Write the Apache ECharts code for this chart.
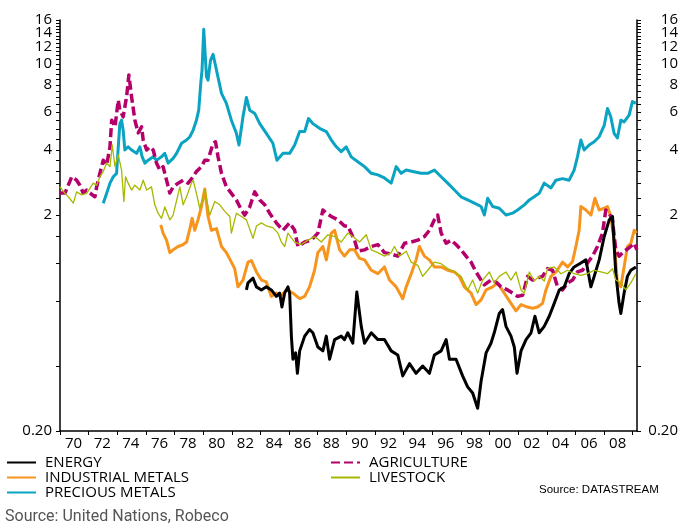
<!DOCTYPE html>
<html>
<head>
<meta charset="utf-8">
<script src="https://cdn.jsdelivr.net/npm/echarts@6/dist/echarts.min.js"></script>
<style>
  html, body { margin: 0; padding: 0; background: #fff; }
  #chart { width: 681px; height: 525px; }
</style>
</head>
<body>
<div id="chart"></div>
<script>
// Commodity price indices (log scale), [year, index level]
const energy = [[1983.02,0.90],[1983.13,0.97],[1983.48,1.02],[1983.72,0.93],[1984.07,0.90],[1984.41,0.93],[1984.76,0.90],[1985.11,0.84],[1985.34,0.87],[1985.50,0.75],[1985.69,0.87],[1985.92,0.93],[1986.04,0.87],[1986.16,0.55],[1986.27,0.43],[1986.46,0.46],[1986.58,0.37],[1986.74,0.47],[1987.09,0.55],[1987.43,0.59],[1987.66,0.57],[1988.01,0.49],[1988.36,0.47],[1988.60,0.55],[1988.83,0.43],[1989.18,0.53],[1989.64,0.55],[1989.87,0.53],[1990.10,0.57],[1990.45,0.51],[1990.73,0.88],[1991.04,0.61],[1991.27,0.51],[1991.74,0.57],[1992.20,0.53],[1992.66,0.53],[1993.13,0.47],[1993.59,0.45],[1993.94,0.36],[1994.41,0.41],[1994.87,0.37],[1995.33,0.40],[1995.80,0.37],[1996.15,0.45],[1996.62,0.47],[1996.97,0.53],[1997.20,0.43],[1997.66,0.43],[1998.12,0.36],[1998.47,0.32],[1998.82,0.30],[1999.17,0.255],[1999.41,0.34],[1999.76,0.46],[2000.10,0.51],[2000.33,0.57],[2000.68,0.70],[2000.91,0.73],[2001.15,0.61],[2001.50,0.55],[2001.73,0.49],[2001.92,0.37],[2002.20,0.47],[2002.55,0.53],[2002.90,0.57],[2003.17,0.68],[2003.47,0.57],[2003.82,0.61],[2004.17,0.68],[2004.52,0.78],[2004.87,0.90],[2005.22,0.93],[2005.56,1.07],[2005.91,1.15],[2006.38,1.20],[2006.73,1.24],[2007.08,0.93],[2007.31,1.04],[2007.66,1.24],[2008.01,1.59],[2008.36,1.90],[2008.59,1.97],[2008.82,1.07],[2009.05,0.78],[2009.17,0.70],[2009.40,0.87],[2009.63,1.04],[2009.87,1.11],[2010.22,1.15]];

const industrialMetals = [[1977.04,1.80],[1977.20,1.65],[1977.44,1.53],[1977.67,1.34],[1977.90,1.38],[1978.25,1.43],[1978.60,1.46],[1978.84,1.50],[1979.07,1.73],[1979.23,1.93],[1979.41,1.70],[1979.64,1.90],[1979.88,2.19],[1980.11,2.64],[1980.34,1.97],[1980.58,1.70],[1980.93,1.73],[1981.28,1.43],[1981.62,1.34],[1981.97,1.21],[1982.20,1.13],[1982.43,0.93],[1982.78,1.00],[1983.13,1.21],[1983.37,1.23],[1983.72,1.09],[1984.07,1.00],[1984.41,0.98],[1984.76,0.84],[1985.11,0.87],[1985.46,0.85],[1985.81,0.90],[1986.27,0.87],[1986.74,0.82],[1987.09,0.84],[1987.43,0.93],[1987.78,1.11],[1988.01,1.34],[1988.36,1.43],[1988.60,1.24],[1988.95,1.65],[1989.18,1.70],[1989.53,1.38],[1989.87,1.29],[1990.22,1.38],[1990.57,1.38],[1990.92,1.26],[1991.27,1.24],[1991.74,1.11],[1992.20,1.07],[1992.66,1.15],[1993.01,1.00],[1993.48,0.93],[1993.94,0.82],[1994.18,0.93],[1994.53,1.07],[1994.87,1.24],[1995.10,1.43],[1995.45,1.29],[1995.80,1.24],[1996.15,1.15],[1996.62,1.15],[1997.08,1.11],[1997.55,1.09],[1997.89,1.04],[1998.24,0.93],[1998.71,0.87],[1999.06,0.77],[1999.41,0.81],[1999.76,0.90],[2000.22,0.93],[2000.56,0.97],[2001.03,0.87],[2001.50,0.78],[2001.85,0.72],[2002.20,0.77],[2002.66,0.75],[2003.01,0.74],[2003.35,0.75],[2003.70,0.78],[2003.94,0.90],[2004.29,1.04],[2004.64,1.09],[2005.10,1.21],[2005.45,1.15],[2005.80,1.22],[2006.03,1.43],[2006.26,1.70],[2006.38,2.19],[2006.73,2.11],[2007.08,2.00],[2007.36,2.39],[2007.66,2.11],[2008.01,2.15],[2008.24,2.19],[2008.47,1.97],[2008.70,1.53],[2008.93,0.97],[2009.17,0.93],[2009.40,1.15],[2009.63,1.43],[2009.87,1.48],[2010.10,1.70],[2010.26,1.65]];

const preciousMetals = [[1973.02,2.27],[1973.26,2.52],[1973.49,2.81],[1973.72,3.01],[1973.95,3.12],[1974.07,4.14],[1974.18,5.30],[1974.30,5.50],[1974.41,4.95],[1974.53,4.00],[1974.76,4.14],[1975.00,4.00],[1975.35,3.86],[1975.58,4.14],[1975.74,3.72],[1975.93,3.48],[1976.16,3.59],[1976.51,3.72],[1976.74,3.59],[1977.09,3.72],[1977.32,3.86],[1977.55,3.48],[1977.90,3.66],[1978.14,3.86],[1978.49,4.30],[1978.84,4.45],[1979.07,4.61],[1979.30,4.95],[1979.53,5.50],[1979.69,6.12],[1979.83,8.15],[1979.92,9.38],[1980.04,14.5],[1980.23,8.73],[1980.34,8.43],[1980.51,10.4],[1980.69,11.1],[1980.93,9.38],[1981.28,7.32],[1981.62,6.58],[1981.97,5.50],[1982.32,4.78],[1982.50,4.22],[1982.78,5.70],[1983.02,7.00],[1983.25,6.12],[1983.60,5.91],[1983.95,5.30],[1984.41,4.78],[1984.87,4.30],[1985.15,3.59],[1985.57,3.86],[1986.04,3.86],[1986.39,4.22],[1986.74,4.87],[1987.09,4.87],[1987.36,5.60],[1987.66,5.30],[1988.13,5.04],[1988.60,4.87],[1988.95,4.45],[1989.30,4.14],[1989.64,3.93],[1989.99,4.14],[1990.34,3.72],[1990.80,3.53],[1991.27,3.35],[1991.74,3.12],[1992.20,3.07],[1992.66,2.97],[1993.13,2.81],[1993.48,3.35],[1993.83,3.12],[1994.18,3.23],[1994.64,3.18],[1995.22,3.12],[1995.68,3.12],[1996.15,3.23],[1996.62,3.01],[1997.08,2.81],[1997.55,2.61],[1998.01,2.43],[1998.47,2.35],[1998.94,2.27],[1999.41,2.19],[1999.64,2.00],[1999.87,2.39],[2000.22,2.19],[2000.68,2.15],[2001.15,2.00],[2001.61,2.04],[2001.96,2.11],[2002.43,2.23],[2002.78,2.35],[2003.12,2.43],[2003.47,2.52],[2003.82,2.81],[2004.29,2.67],[2004.64,2.90],[2005.10,2.95],[2005.56,2.90],[2005.91,3.23],[2006.14,3.72],[2006.38,4.45],[2006.61,4.00],[2006.96,4.22],[2007.31,4.37],[2007.66,4.61],[2008.01,5.20],[2008.24,6.23],[2008.47,5.70],[2008.70,4.78],[2008.93,4.55],[2009.17,5.50],[2009.40,5.40],[2009.75,5.80],[2009.98,6.70],[2010.22,6.58]];

const agriculture = [[1970.00,2.53],[1970.35,2.53],[1970.58,2.75],[1970.82,3.01],[1971.16,2.90],[1971.39,2.75],[1971.62,2.53],[1971.86,2.61],[1972.09,2.53],[1972.44,2.43],[1972.56,2.70],[1972.79,3.13],[1973.02,3.59],[1973.26,3.41],[1973.49,4.14],[1973.61,5.50],[1973.84,5.12],[1974.07,6.81],[1974.18,6.12],[1974.41,5.70],[1974.65,7.05],[1974.81,8.90],[1975.00,7.05],[1975.23,5.50],[1975.46,4.80],[1975.70,5.12],[1975.81,4.45],[1976.05,4.00],[1976.28,4.14],[1976.51,4.00],[1976.74,3.48],[1976.97,3.23],[1977.20,3.35],[1977.44,2.90],[1977.67,2.53],[1977.90,2.70],[1978.25,2.81],[1978.60,2.90],[1978.95,2.81],[1979.30,3.01],[1979.53,3.18],[1979.88,3.35],[1980.11,3.59],[1980.34,3.59],[1980.69,4.30],[1980.86,4.37],[1981.04,3.72],[1981.28,3.12],[1981.62,2.70],[1981.97,2.52],[1982.32,2.35],[1982.67,2.11],[1982.90,2.00],[1983.25,2.18],[1983.60,2.56],[1983.95,2.35],[1984.30,2.23],[1984.64,2.04],[1985.11,1.84],[1985.57,1.70],[1986.04,1.84],[1986.39,1.70],[1986.62,1.43],[1987.09,1.50],[1987.55,1.53],[1988.01,1.65],[1988.36,2.11],[1988.60,2.04],[1988.95,1.97],[1989.41,1.90],[1989.87,1.78],[1990.10,1.78],[1990.57,1.53],[1990.80,1.36],[1991.27,1.38],[1991.74,1.43],[1992.20,1.46],[1992.66,1.34],[1993.13,1.32],[1993.59,1.29],[1994.06,1.48],[1994.53,1.50],[1994.99,1.53],[1995.45,1.59],[1995.80,1.70],[1996.15,1.90],[1996.38,2.00],[1996.62,1.65],[1996.97,1.48],[1997.32,1.53],[1997.66,1.46],[1998.01,1.38],[1998.36,1.29],[1998.71,1.21],[1999.06,1.09],[1999.41,1.00],[1999.64,0.95],[2000.10,1.00],[2000.45,0.98],[2000.80,0.93],[2001.26,0.90],[2001.61,0.87],[2001.96,0.84],[2002.31,0.85],[2002.66,1.04],[2003.01,1.00],[2003.35,1.02],[2003.70,1.04],[2004.05,1.13],[2004.40,1.11],[2004.75,0.93],[2005.10,0.90],[2005.45,0.97],[2005.80,1.00],[2006.14,1.09],[2006.49,1.11],[2006.84,1.20],[2007.19,1.29],[2007.54,1.43],[2007.89,1.65],[2008.12,2.11],[2008.35,2.04],[2008.58,1.90],[2008.82,1.38],[2009.05,1.29],[2009.40,1.36],[2009.75,1.41],[2010.10,1.48],[2010.29,1.38]];

const livestock = [[1970.00,2.70],[1970.12,2.75],[1970.35,2.52],[1970.58,2.43],[1970.93,2.27],[1971.16,2.56],[1971.51,2.48],[1971.86,2.52],[1972.09,2.66],[1972.32,2.81],[1972.56,2.75],[1972.79,3.01],[1973.02,3.18],[1973.26,3.48],[1973.49,3.35],[1973.65,4.22],[1973.84,3.35],[1974.07,3.80],[1974.30,3.23],[1974.46,2.31],[1974.58,3.01],[1974.76,2.81],[1975.00,2.61],[1975.23,2.75],[1975.58,2.61],[1975.81,2.90],[1976.05,2.61],[1976.39,2.70],[1976.62,2.23],[1976.85,2.04],[1977.09,1.93],[1977.32,2.18],[1977.67,1.90],[1977.90,2.00],[1978.37,2.70],[1978.60,2.23],[1978.84,2.43],[1979.18,2.81],[1979.30,2.90],[1979.53,2.52],[1979.76,2.15],[1979.99,2.39],[1980.11,2.61],[1980.46,2.00],[1980.81,2.31],[1981.16,2.23],[1981.51,2.08],[1981.86,1.97],[1981.97,1.65],[1982.32,2.04],[1982.67,1.97],[1983.02,1.90],[1983.48,1.56],[1983.72,1.78],[1984.07,1.84],[1984.41,1.78],[1984.87,1.75],[1985.22,1.65],[1985.46,1.50],[1985.69,1.43],[1985.92,1.65],[1986.39,1.50],[1986.85,1.46],[1987.32,1.53],[1987.78,1.59],[1988.25,1.50],[1988.71,1.62],[1989.18,1.59],[1989.64,1.50],[1990.10,1.65],[1990.45,1.59],[1990.92,1.50],[1991.39,1.62],[1991.74,1.38],[1992.20,1.34],[1992.66,1.29],[1993.13,1.34],[1993.36,1.43],[1993.71,1.29],[1994.18,1.36],[1994.53,1.21],[1994.99,1.17],[1995.33,1.04],[1995.68,1.11],[1996.15,1.21],[1996.62,1.19],[1997.08,1.13],[1997.55,1.09],[1998.01,1.04],[1998.47,0.90],[1998.82,1.00],[1999.17,0.87],[1999.52,1.00],[1999.99,1.09],[2000.33,0.97],[2000.68,1.04],[2001.15,1.09],[2001.50,1.00],[2001.85,1.09],[2002.20,0.90],[2002.43,0.87],[2002.78,1.09],[2003.12,0.99],[2003.47,1.04],[2003.82,0.99],[2004.05,1.13],[2004.52,1.15],[2004.99,1.07],[2005.45,1.11],[2005.91,1.07],[2006.38,1.05],[2006.84,1.07],[2007.31,1.11],[2007.78,1.09],[2008.24,1.07],[2008.59,1.13],[2008.82,1.00],[2009.17,0.97],[2009.52,0.90],[2009.87,0.97],[2010.22,1.07]];

// Axis ticks and labels (0.2 listed last so the tightly spaced 14/16 pair
// is not treated as an overlapping end pair)
const yLabelValues = [2, 4, 6, 8, 10, 12, 14, 16, 0.2];
const yTickValues = [0.2, 0.4, 0.8, 1.2, 1.6, 2, 2.4, 2.8, 3.2, 3.6, 4, 4.5, 5, 5.5, 6, 6.5, 7, 7.5, 8, 8.5, 9, 9.5, 10, 10.5, 11, 11.5, 12, 12.5, 13, 13.5, 14, 14.5, 15, 15.5, 16];
const yMin = 0.2;
const yMax = 16.001;
const xStartYear = 1970;
const xEndYear = 2010.3;
const xLastLabelYear = 2008;

const FONT = 'Open Sans';

function yAxisDef(pos) {
  return {
    type: 'log',
    logBase: 10,
    min: yMin,
    max: yMax,
    position: pos,
    axisLine: { show: true, lineStyle: { color: '#000', width: 1.5 } },
    axisTick: { show: true, customValues: yTickValues, length: 4, lineStyle: { color: '#000', width: 1 } },
    minorTick: { show: false },
    splitLine: { show: false },
    axisLabel: {
      customValues: yLabelValues,
      formatter: v => (v < 1 ? '0.20' : String(Math.round(v))),
      fontFamily: FONT,
      fontSize: 15,
      color: '#000',
      margin: pos === 'left' ? 8 : 41,
      align: 'right',
      hideOverlap: false,
      showMinLabel: true,
      showMaxLabel: true
    }
  };
}

const chart = echarts.init(document.getElementById('chart'), null, { renderer: 'canvas' });

const lineSeries = (name, data, color, width, dashed, z) => ({
  name,
  type: 'line',
  data,
  symbol: 'none',
  z,
  lineStyle: { color, width, type: dashed ? [9, 4] : 'solid', join: 'round', cap: 'butt' },
  itemStyle: { color },
  emphasis: { disabled: true },
  animation: false
});

const legendBase = {
  orient: 'vertical',
  top: 455,
  padding: 0,
  itemGap: 0,
  itemHeight: 14,
  selectedMode: false,
  // hide the marker dot, keep only the line sample
  itemStyle: { opacity: 0 },
  textStyle: { fontFamily: FONT, fontSize: 15, color: '#000', lineHeight: 14, padding: [0, 0, 0, 4] }
};

chart.setOption({
  animation: false,
  backgroundColor: '#fff',
  grid: { left: 60, right: 43, top: 20, bottom: 94, containLabel: false },
  xAxis: {
    type: 'value',
    min: xStartYear,
    max: xEndYear,
    interval: 2,
    axisLine: { show: true, lineStyle: { color: '#000', width: 1.5 } },
    axisTick: { show: true, length: 4, lineStyle: { color: '#000', width: 1 } },
    splitLine: { show: false },
    axisLabel: {
      formatter: v => (v > xLastLabelYear ? '' : String(v % 100).padStart(2, '0')),
      fontFamily: FONT,
      fontSize: 15,
      color: '#000',
      align: 'left',
      padding: [0, 0, 0, 5],
      margin: 5,
      showMaxLabel: false,
      hideOverlap: false
    }
  },
  yAxis: [yAxisDef('left'), yAxisDef('right')],
  legend: [
    Object.assign({}, legendBase, {
      data: ['ENERGY', 'INDUSTRIAL METALS', 'PRECIOUS METALS'],
      left: 6,
      itemWidth: 29
    }),
    Object.assign({}, legendBase, {
      data: ['AGRICULTURE', 'LIVESTOCK'],
      left: 330,
      itemWidth: 29
    })
  ],
  title: [
    {
      text: 'Source: DATASTREAM',
      left: 539,
      top: 484,
      padding: 0,
      textStyle: { fontFamily: 'Liberation Sans', fontSize: 11.5, fontWeight: 'normal', color: '#000' }
    },
    {
      text: 'Source: United Nations, Robeco',
      left: 5,
      top: 509,
      padding: 0,
      textStyle: { fontFamily: 'Roboto', fontSize: 16, fontWeight: 'normal', color: '#555' }
    }
  ],
  series: [
    lineSeries('ENERGY', energy, '#000000', 3, false, 5),
    lineSeries('INDUSTRIAL METALS', industrialMetals, '#f7941d', 3, false, 3),
    lineSeries('PRECIOUS METALS', preciousMetals, '#0aa3c2', 3, false, 2),
    lineSeries('AGRICULTURE', agriculture, '#b5006b', 3.5, true, 4),
    lineSeries('LIVESTOCK', livestock, '#a6b800', 1.3, false, 6)
  ]
});
</script>
</body>
</html>
